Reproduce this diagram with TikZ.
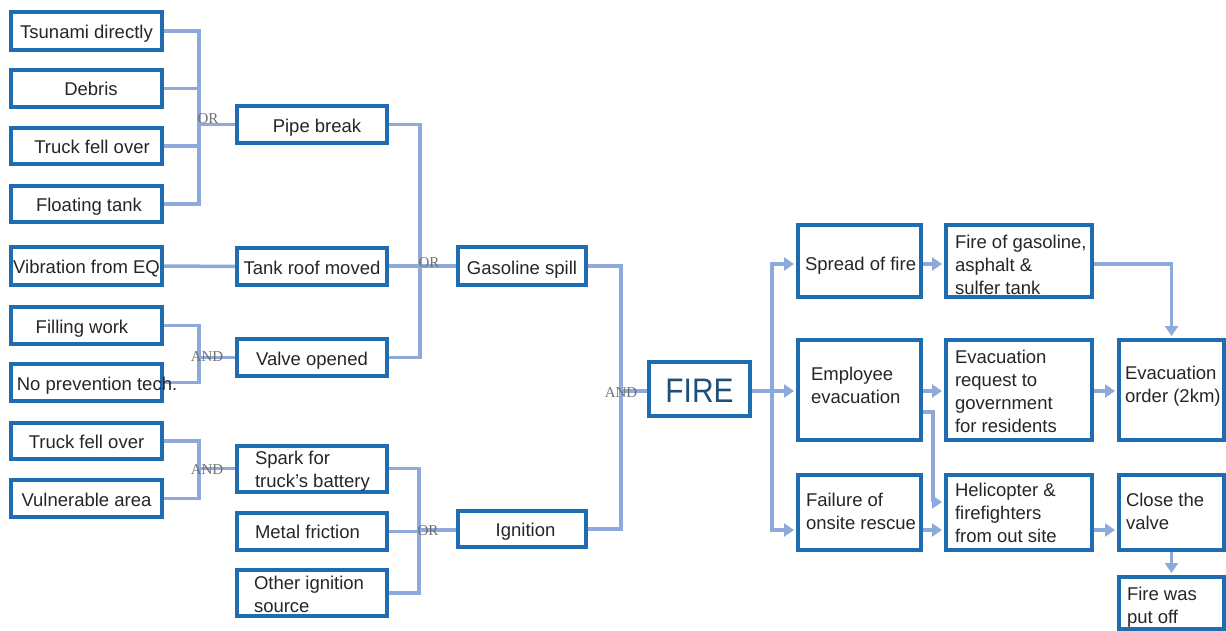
\documentclass[tikz,border=0pt]{standalone}
\usepackage{fontspec}
\usepackage{graphicx}
\setmainfont{Liberation Sans}
\newfontfamily\gatefont{Liberation Serif}
\usetikzlibrary{arrows.meta,backgrounds}

\definecolor{boxblue}{HTML}{1F6CB0}
\definecolor{wireblue}{HTML}{8EA9DB}
\definecolor{ink}{HTML}{262626}
\definecolor{firetext}{HTML}{1F4E79}
\definecolor{gategray}{HTML}{707070}

\newsavebox\nudgebox
\newdimen\nudgeht
\newdimen\nudgedp
% draw #2 lowered by #1 while keeping its reported height and depth
\newcommand\nudge[2]{%
  \setbox\nudgebox=\hbox{#2}\nudgeht=\ht\nudgebox \nudgedp=\dp\nudgebox
  \setbox\nudgebox=\hbox{\lower#1\box\nudgebox}%
  \ht\nudgebox=\nudgeht \dp\nudgebox=\nudgedp \box\nudgebox}
% centred text moved sideways by half of #1
\newcommand\shifted[2]{\makebox[0pt]{\hspace{#1}#2}}
% left-aligned lines in a slot of width #2, lowered by #1
\newcommand\leftlines[3][3pt]{\nudge{#1}{\makebox[#2][l]{\begin{tabular}{@{}l@{}}#3\end{tabular}}}}

\tikzset{
  box/.style args={#1/#2/#3/#4}{draw=boxblue, line width=4pt, fill=white, inner sep=0pt,
    text=ink, font=\fontsize{18.5}{23}\selectfont, text height=15pt, text depth=0pt,
    minimum width={#3-#1-4}, minimum height={#4-#2-4},
    at={({(#1+#3)/2},{(#2+#4)/2})}},
  multi/.style={text height={}, text depth={}},
  wire/.style={draw=wireblue, line width=3.5pt},
  arr/.style={wire, -{Triangle[length=10pt,width=13pt]}, shorten >=2pt},
  gate/.style={font=\gatefont\fontsize{15}{15}\selectfont, text=gategray, inner sep=0pt},
}

\begin{document}
\begin{tikzpicture}[x=1pt,y=-1pt]
\useasboundingbox (0,0) rectangle (1226,631);
\clip (0,0) rectangle (1226,631);

% basic events
\node[box=9/10/164/52] (t1) {Tsunami directly};
\node[box=9/68/164/109] (t2) {\shifted{9pt}{Debris}};
\node[box=9/126/164/166] (t3) {\shifted{11pt}{Truck fell over}};
\node[box=9/184/164/224] (t4) {\shifted{5pt}{Floating tank}};
\node[box=9/245/164/287] (v) {Vibration from EQ};
\node[box=9/305/164/346] (f) {\shifted{-9pt}{Filling work}};
\node[box=9/362/164/403] (n) {\shifted{21pt}{No prevention tech.}};
\node[box=9/421/164/461] (tr) {Truck fell over};
\node[box=9/478/164/519] (vu) {Vulnerable area};

% intermediate events
\node[box=235/104/389/145, text height=17pt] (pb) {\shifted{10pt}{Pipe break}};
\node[box=235/246/389/287, text height=16pt] (tm) {Tank roof moved};
\node[box=235/337/389/378] (vo) {Valve opened};
\node[box=235/444/389/493, multi] (sp) {\leftlines{114pt}{Spark for\\truck's battery}};
\node[box=235/511/389/552, multi] (mf) {\leftlines[2pt]{114pt}{Metal friction}};
\node[box=235/568/389/618, multi] (oi) {\leftlines{116pt}{Other ignition\\source}};
\node[box=456/245/588/287, text height=17pt] (gs) {Gasoline spill};
\node[box=456/509/588/549] (ig) {\shifted{7pt}{Ignition}};

% top event
\node[box=647/360/752/418, font=\fontsize{34}{34}\selectfont, text=firetext,
  text height=27.4pt] (fire) {\scalebox{0.88}[1]{FIRE}};

% consequences
\node[box=796/223/923/299, multi] (sf) {\leftlines[5pt]{109pt}{Spread of fire}};
\node[box=944/223/1094/299, multi] (fg) {\leftlines[5.5pt]{128pt}{Fire of gasoline,\\asphalt \&\\sulfer tank}};
\node[box=796/338/923/442, multi] (ee) {\leftlines[-3pt]{97pt}{Employee\\evacuation}};
\node[box=944/338/1094/442, multi] (er) {\leftlines{128pt}{Evacuation\\request to\\government\\for residents}};
\node[box=1117/338/1226/442, multi] (eo) {\leftlines[-4pt]{93pt}{Evacuation\\order (2km)}};
\node[box=796/473/923/552, multi] (fo) {\leftlines[1pt]{107pt}{Failure of\\onsite rescue}};
\node[box=944/473/1094/552, multi] (hf) {\leftlines[2.5pt]{128pt}{Helicopter \&\\firefighters\\from out site}};
\node[box=1117/473/1226/552, multi] (cv) {\leftlines[1pt]{91pt}{Close the\\valve}};
\node[box=1117/575/1226/631, multi] (fp) {\leftlines[4pt]{89pt}{Fire was\\put off}};

% gate junctions
\coordinate (j1) at (199,124.5);
\coordinate (j2) at (199,357.5);
\coordinate (j3) at (420,266);
\coordinate (j4) at (199,468.5);
\coordinate (j5) at (419,530);
\coordinate (j6) at (621,391);
\coordinate (k)  at (772,391);
\coordinate (k1) at (772,264);
\coordinate (k3) at (772,530);
\coordinate (m1) at (933,412);
\coordinate (m2) at (933,502);

\begin{pgfonlayer}{background}
\fill[white] (0,0) rectangle (1226,631);
% OR: pipe break
\draw[wire] (t1.east) -| (j1);
\draw[wire] (t4.east) -| (j1);
\draw[wire] (t2.east) -- (t2.east -| j1);
\draw[wire] (t3.east) -- (t3.east -| j1);
\draw[wire] (j1) -- (pb.west);
% tank roof
\draw[wire] (v.east) -- (tm.west);
% AND: valve opened
\draw[wire] (f.east) -| (j2);
\draw[wire] (n.east) -| (j2);
\draw[wire] (j2) -- (vo.west);
% OR: gasoline spill
\draw[wire] (pb.east) -| (j3);
\draw[wire] (vo.east) -| (j3);
\draw[wire] (tm.east) -- (j3 -| tm.east) -- (j3);
\draw[wire] (j3) -- (gs.west);
% AND: spark
\draw[wire] (tr.east) -| (j4);
\draw[wire] (vu.east) -| (j4);
\draw[wire] (j4) -- (sp.west);
% OR: ignition
\draw[wire] (sp.east) -| (j5);
\draw[wire] (oi.east) -| (j5);
\draw[wire] (mf.east) -- (mf.east -| j5);
\draw[wire] (j5) -- (j5 -| ig.west);
% AND: fire
\draw[wire] (gs.east) -| (j6);
\draw[wire] (ig.east) -| (j6);
\draw[wire] (j6) -- (j6 -| fire.west);
% consequences
\draw[arr] (fire.east |- k) -- (k -| ee.west);
\draw[arr] (k) |- (k1 -| sf.west);
\draw[arr] (k) |- (k3 -| fo.west);
\draw[arr] (sf.east |- k1) -- (fg.west |- k1);
\draw[arr] (fg.east |- k1) -| (eo.north);
\draw[arr] (ee.east |- k) -- (er.west |- k);
\draw[arr] (er.east |- k) -- (eo.west |- k);
\draw[arr] (ee.east |- m1) -- (m1) -- (m2) -- (m2 -| hf.west);
\draw[arr] (fo.east |- k3) -- (hf.west |- k3);
\draw[arr] (hf.east |- k3) -- (cv.west |- k3);
\draw[arr] (cv.south) -- (fp.north);
\end{pgfonlayer}

% gate labels
\node[gate] (g1) at (208,119) {OR};
\node[gate] (g2) at (207,357) {AND};
\node[gate] (g3) at (429,263) {OR};
\node[gate] (g4) at (207,470) {AND};
\node[gate] (g5) at (428,531) {OR};
\node[gate] (g6) at (621,393) {AND};
\end{tikzpicture}
\end{document}
